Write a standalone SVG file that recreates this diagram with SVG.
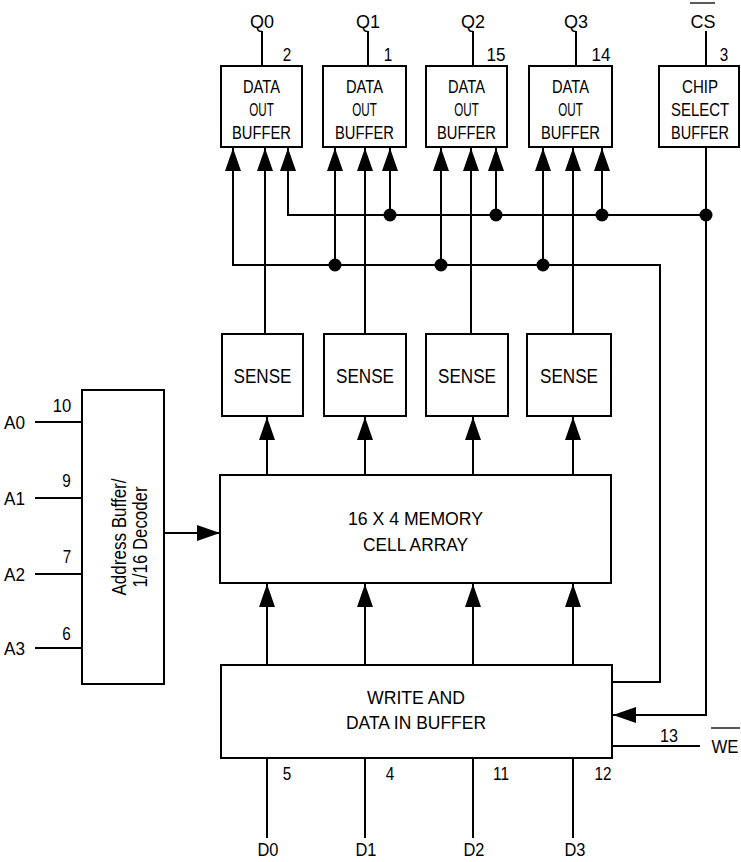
<svg xmlns="http://www.w3.org/2000/svg" width="741" height="862" viewBox="0 0 741 862">
<style>
.b{fill:#fff;stroke:#000;stroke-width:2}
.w{fill:none;stroke:#000;stroke-width:2}
.a{marker-end:url(#ar)}
text{font-family:"Liberation Sans",Arial,sans-serif;fill:#000;text-anchor:middle}
.s17{font-size:17.5px}
.s18{font-size:18px}
.s19{font-size:19px}
.s20{font-size:20px}
.s21{font-size:21px}
</style>
<defs>
<marker id="ar" markerUnits="userSpaceOnUse" markerWidth="23" markerHeight="16" refX="23" refY="8" orient="auto" viewBox="0 0 23 16">
<path d="M0,0 L23,8 L0,16 z" fill="#000"/>
</marker>
</defs>
<rect width="741" height="862" fill="#fff"/>
<g id="connectors">
<path class="w" d="M262,31 V66 M368,31 V66 M473,31 V66 M576,31 V66 M706,31 V66"/>
<path class="w a" d="M612,682 H660 V265 H233 V148"/>
<path class="w a" d="M335,265 V148"/>
<path class="w a" d="M441,265 V148"/>
<path class="w a" d="M543,265 V148"/>
<path class="w a" d="M706,147 V715 H613"/>
<path class="w a" d="M706,215 H288 V148"/>
<path class="w a" d="M390,215 V148"/>
<path class="w a" d="M496,215 V148"/>
<path class="w a" d="M602,215 V148"/>
<path class="w a" d="M265,334 V148"/>
<path class="w a" d="M365,334 V148"/>
<path class="w a" d="M471,334 V148"/>
<path class="w a" d="M573,334 V148"/>
<path class="w a" d="M267,475 V417"/>
<path class="w a" d="M365,475 V417"/>
<path class="w a" d="M473,475 V417"/>
<path class="w a" d="M573,475 V417"/>
<path class="w a" d="M267,665 V584"/>
<path class="w a" d="M365,665 V584"/>
<path class="w a" d="M473,665 V584"/>
<path class="w a" d="M573,665 V584"/>
<path class="w" d="M267,758 V838 M365,758 V838 M473,758 V838 M573,758 V838"/>
<path class="w" d="M35,422 H82 M35,498 H82 M35,574 H82 M35,648 H82"/>
<path class="w a" d="M164,533 H220"/>
<path class="w" d="M612,746 H700"/>
<g fill="#000">
<circle cx="335" cy="265" r="6.5"/><circle cx="441" cy="265" r="6.5"/><circle cx="543" cy="265" r="6.5"/>
<circle cx="390" cy="215" r="6.5"/><circle cx="496" cy="215" r="6.5"/><circle cx="602" cy="215" r="6.5"/><circle cx="706" cy="215" r="6.5"/>
</g>
</g>
<g id="dob0"><rect class="b" x="221" y="66" width="81" height="81"/>
<text class="s17" x="261.5" y="92.5" textLength="37" lengthAdjust="spacingAndGlyphs">DATA</text>
<text class="s17" x="261.5" y="115.5" textLength="24.5" lengthAdjust="spacingAndGlyphs">OUT</text>
<text class="s17" x="261.5" y="139" textLength="59" lengthAdjust="spacingAndGlyphs">BUFFER</text></g>
<g id="dob1"><rect class="b" x="323" y="66" width="83" height="81"/>
<text class="s17" x="364.5" y="92.5" textLength="37" lengthAdjust="spacingAndGlyphs">DATA</text>
<text class="s17" x="364.5" y="115.5" textLength="24.5" lengthAdjust="spacingAndGlyphs">OUT</text>
<text class="s17" x="364.5" y="139" textLength="59" lengthAdjust="spacingAndGlyphs">BUFFER</text></g>
<g id="dob2"><rect class="b" x="426" y="66" width="81" height="81"/>
<text class="s17" x="466.5" y="92.5" textLength="37" lengthAdjust="spacingAndGlyphs">DATA</text>
<text class="s17" x="466.5" y="115.5" textLength="24.5" lengthAdjust="spacingAndGlyphs">OUT</text>
<text class="s17" x="466.5" y="139" textLength="59" lengthAdjust="spacingAndGlyphs">BUFFER</text></g>
<g id="dob3"><rect class="b" x="529" y="66" width="83" height="81"/>
<text class="s17" x="570.5" y="92.5" textLength="37" lengthAdjust="spacingAndGlyphs">DATA</text>
<text class="s17" x="570.5" y="115.5" textLength="24.5" lengthAdjust="spacingAndGlyphs">OUT</text>
<text class="s17" x="570.5" y="139" textLength="59" lengthAdjust="spacingAndGlyphs">BUFFER</text></g>
<g id="csb"><rect class="b" x="659" y="66" width="80" height="81"/>
<text class="s17" x="700" y="92.5" textLength="36" lengthAdjust="spacingAndGlyphs">CHIP</text>
<text class="s17" x="700" y="115.5" textLength="58" lengthAdjust="spacingAndGlyphs">SELECT</text>
<text class="s17" x="700" y="139" textLength="58" lengthAdjust="spacingAndGlyphs">BUFFER</text></g>
<g id="pins-top">
<text class="s18" x="262" y="28" textLength="24" lengthAdjust="spacingAndGlyphs">Q0</text>
<text class="s18" x="368" y="28" textLength="24" lengthAdjust="spacingAndGlyphs">Q1</text>
<text class="s18" x="473" y="28" textLength="24" lengthAdjust="spacingAndGlyphs">Q2</text>
<text class="s18" x="576" y="28" textLength="24" lengthAdjust="spacingAndGlyphs">Q3</text>
<text class="s18" x="703" y="27.5" textLength="25" lengthAdjust="spacingAndGlyphs">CS</text>
<line x1="690" y1="3" x2="715" y2="3" stroke="#000" stroke-width="1.3"/>
<text class="s18" x="287" y="61" textLength="8.5" lengthAdjust="spacingAndGlyphs">2</text>
<text class="s18" x="388" y="61" textLength="8.5" lengthAdjust="spacingAndGlyphs">1</text>
<text class="s18" x="496" y="61" textLength="19" lengthAdjust="spacingAndGlyphs">15</text>
<text class="s18" x="601" y="61" textLength="19" lengthAdjust="spacingAndGlyphs">14</text>
<text class="s18" x="724" y="61" textLength="8.5" lengthAdjust="spacingAndGlyphs">3</text>
</g>
<g id="sense0"><rect class="b" x="222" y="334" width="81" height="82"/><text class="s21" x="262.5" y="383" textLength="58" lengthAdjust="spacingAndGlyphs">SENSE</text></g>
<g id="sense1"><rect class="b" x="324" y="334" width="82" height="82"/><text class="s21" x="365" y="383" textLength="58" lengthAdjust="spacingAndGlyphs">SENSE</text></g>
<g id="sense2"><rect class="b" x="426" y="334" width="82" height="82"/><text class="s21" x="467" y="383" textLength="58" lengthAdjust="spacingAndGlyphs">SENSE</text></g>
<g id="sense3"><rect class="b" x="527" y="334" width="84" height="82"/><text class="s21" x="569" y="383" textLength="58" lengthAdjust="spacingAndGlyphs">SENSE</text></g>
<g id="memory"><rect class="b" x="220" y="475" width="391" height="108"/>
<text class="s19" x="415.5" y="525" textLength="135" lengthAdjust="spacingAndGlyphs">16 X 4 MEMORY</text>
<text class="s19" x="415.5" y="551" textLength="105" lengthAdjust="spacingAndGlyphs">CELL ARRAY</text></g>
<g id="decoder"><rect class="b" x="82" y="390" width="82" height="294"/>
<text class="s20" transform="translate(126,537) rotate(-90)" textLength="117" lengthAdjust="spacingAndGlyphs">Address Buffer/</text>
<text class="s20" transform="translate(147,537) rotate(-90)" textLength="101" lengthAdjust="spacingAndGlyphs">1/16 Decoder</text></g>
<g id="pins-addr">
<text class="s18" x="14.5" y="428.5" textLength="21" lengthAdjust="spacingAndGlyphs">A0</text>
<text class="s18" x="14.5" y="504.5" textLength="21" lengthAdjust="spacingAndGlyphs">A1</text>
<text class="s18" x="14.5" y="580.5" textLength="21" lengthAdjust="spacingAndGlyphs">A2</text>
<text class="s18" x="14.5" y="654.5" textLength="21" lengthAdjust="spacingAndGlyphs">A3</text>
<text class="s18" x="62" y="411.5" textLength="18.5" lengthAdjust="spacingAndGlyphs">10</text>
<text class="s18" x="66.5" y="487" textLength="8.5" lengthAdjust="spacingAndGlyphs">9</text>
<text class="s18" x="67" y="563" textLength="8.5" lengthAdjust="spacingAndGlyphs">7</text>
<text class="s18" x="66.5" y="640" textLength="8.5" lengthAdjust="spacingAndGlyphs">6</text>
</g>
<g id="writebuf"><rect class="b" x="221" y="665" width="391" height="93"/>
<text class="s19" x="416" y="704" textLength="98" lengthAdjust="spacingAndGlyphs">WRITE AND</text>
<text class="s19" x="416" y="729" textLength="140" lengthAdjust="spacingAndGlyphs">DATA IN BUFFER</text></g>
<g id="pins-data">
<text class="s18" x="287" y="780" textLength="8.5" lengthAdjust="spacingAndGlyphs">5</text>
<text class="s18" x="390" y="780" textLength="8.5" lengthAdjust="spacingAndGlyphs">4</text>
<text class="s18" x="501" y="780" textLength="16" lengthAdjust="spacingAndGlyphs">11</text>
<text class="s18" x="603" y="780" textLength="17" lengthAdjust="spacingAndGlyphs">12</text>
<text class="s18" x="268" y="856" textLength="21" lengthAdjust="spacingAndGlyphs">D0</text>
<text class="s18" x="366" y="856" textLength="21" lengthAdjust="spacingAndGlyphs">D1</text>
<text class="s18" x="474" y="856" textLength="21" lengthAdjust="spacingAndGlyphs">D2</text>
<text class="s18" x="575" y="856" textLength="21" lengthAdjust="spacingAndGlyphs">D3</text>
<text class="s18" x="669" y="741.5" textLength="18" lengthAdjust="spacingAndGlyphs">13</text>
<text class="s18" x="725" y="753" textLength="27" lengthAdjust="spacingAndGlyphs">WE</text>
<line x1="711" y1="728" x2="740" y2="728" stroke="#000" stroke-width="1.3"/>
</g>
</svg>
